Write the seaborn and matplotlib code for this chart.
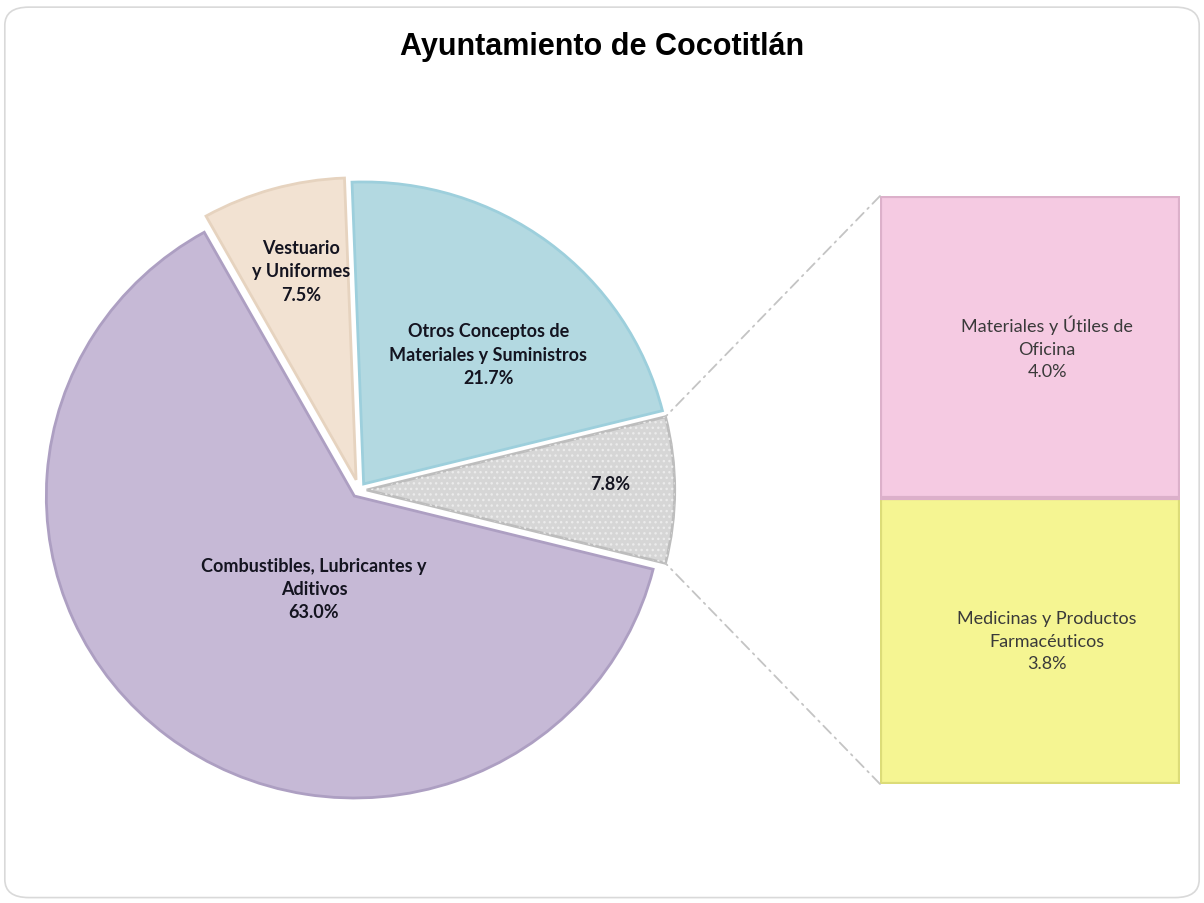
import numpy as np
import matplotlib
matplotlib.use("Agg")
import matplotlib.pyplot as plt
import matplotlib.patches as mpatches
from matplotlib.patches import ConnectionPatch, FancyBboxPatch
import seaborn as sns

# ---------------- data ----------------
title = "Ayuntamiento de Cocotitlán"
pie_labels = ["Otros Conceptos de\nMateriales y Suministros",
              "",
              "Combustibles, Lubricantes y\nAditivos",
              "Vestuario\ny Uniformes"]
pie_values = [21.7, 7.8, 63.0, 7.5]
bar_labels = ["Medicinas y Productos\nFarmacéuticos", "Materiales y Útiles de\nOficina"]
bar_values = [3.8, 4.0]

# ---------------- style ----------------
sns.set_theme(style="white")
plt.rcParams['font.family'] = ['Lato', 'DejaVu Sans']

pie_colors = ["#b3d9e1", "#d6d6d6", "#c6b9d6", "#f2e2d2"]
pie_edges = ["#9dcfdc", "#bdbdbd", "#ad9fc2", "#e6d3bf"]
bar_colors = ["#f5f592", "#f5cae2"]
bar_edges = ["#dcdc78", "#dcb0ca"]

fig = plt.figure(figsize=(12.04, 9.04), dpi=100)

# rounded border
border = FancyBboxPatch((0.004, 0.006), 0.992, 0.985, boxstyle="round,pad=0,rounding_size=0.02",
                        transform=fig.transFigure, facecolor="none", edgecolor="#d9d9d9",
                        linewidth=1.2, zorder=0)
fig.patches.append(border)

fig.text(0.5, 0.948, title, ha="center", va="center", fontsize=22, fontweight="bold",
         family=['Liberation Sans Narrow', 'Liberation Sans', 'DejaVu Sans'], color="black")

# ---------------- pie ----------------
RX_PX, RY_PX = 308.0, 302.0
cx, cy = 359.0, 491.0
half = 1.2
W, H = 1204.0, 904.0
ax_pie = fig.add_axes([(cx - half * RX_PX) / W, (H - cy - half * RY_PX) / H,
                       2 * half * RX_PX / W, 2 * half * RY_PX / H])

total = sum(pie_values)
startangle = (pie_values[0] + pie_values[1] / 2) / total * 360.0
explode = [0.025, 0.025, 0.025, 0.035]
wedges, _ = ax_pie.pie(pie_values, colors=pie_colors, startangle=startangle,
                       counterclock=False, explode=explode, radius=1.0,
                       wedgeprops=dict(linewidth=2.0))
for w, ec in zip(wedges, pie_edges):
    w.set_edgecolor(ec)
ax_pie.set_xlim(-half, half)
ax_pie.set_ylim(-half, half)
ax_pie.set_aspect("auto")
ax_pie.axis("off")

# dotted texture on the grey slice
gw = wedges[1]
tex = mpatches.Wedge(gw.center, gw.r, gw.theta1, gw.theta2, facecolor="none",
                     edgecolor="#ebebeb", hatch="...", linewidth=0)
ax_pie.add_patch(tex)

# labels (polar position: radius, angle in degrees)
label_pos = [(0.615, 47), (0.815, 1.4), (0.357, 245.8), (0.75, 104.6)]
for lab, val, (r, a) in zip(pie_labels, pie_values, label_pos):
    txt = f"{lab}\n{val:.1f}%" if lab else f"{val:.1f}%"
    ax_pie.text(r * np.cos(np.radians(a)), r * np.sin(np.radians(a)), txt,
                ha="center", va="center", fontsize=13, fontweight="bold",
                color="#141420", linespacing=1.45)

# ---------------- bar ----------------
bx0, bx1, by0, by1 = 880.0, 1180.0, 197.0, 785.0
ax_bar = fig.add_axes([bx0 / W, (H - by1) / H, (bx1 - bx0) / W, (by1 - by0) / H])
bottom = 0.0
for lab, val, col, ec in zip(bar_labels, bar_values, bar_colors, bar_edges):
    ax_bar.bar(0, val, width=1.0, bottom=bottom, color=col, edgecolor=ec, linewidth=3)
    ax_bar.text(0.057, bottom + val / 2, f"{lab}\n{val:.1f}%", ha="center",
                va="center", fontsize=13, color="#3a3a3a", linespacing=1.5)
    bottom += val
ax_bar.set_xlim(-0.5, 0.5)
ax_bar.set_ylim(0, sum(bar_values))
ax_bar.axis("off")

# ---------------- connectors ----------------
mid = np.radians((gw.theta1 + gw.theta2) / 2)
ex = explode[1]
for theta, ybar in [(gw.theta2, sum(bar_values)), (gw.theta1, 0)]:
    t = np.radians(theta)
    px = ex * np.cos(mid) + np.cos(t)
    py = ex * np.sin(mid) + np.sin(t)
    con = ConnectionPatch(xyA=(-0.5, ybar), coordsA=ax_bar.transData,
                          xyB=(px, py), coordsB=ax_pie.transData,
                          color="#c4c4c4", linestyle=(0, (6, 3, 1, 3)), linewidth=1.3)
    fig.add_artist(con)

fig.savefig("out.png", dpi=100, facecolor="white")
